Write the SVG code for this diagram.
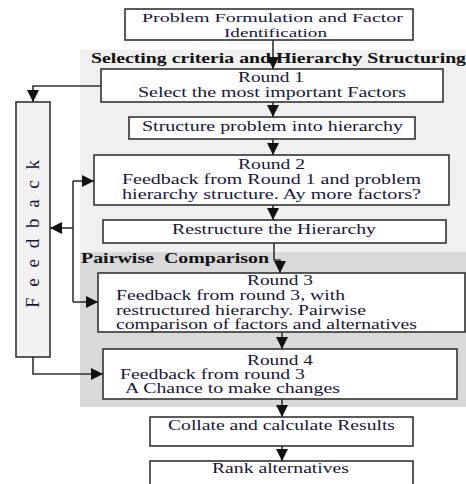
<svg xmlns="http://www.w3.org/2000/svg" width="466" height="484" viewBox="0 0 466 484">
<style>
.box{fill:#fff;stroke:#333;stroke-width:1.6}
.t{font-family:"Liberation Serif","Times New Roman",serif;font-size:14px;fill:#16163a}
.b{font-weight:bold;fill:#111;font-size:15px}
.c{fill:none;stroke:#333;stroke-width:1.6}
</style>
<defs>
<marker id="ah" markerUnits="userSpaceOnUse" markerWidth="12" markerHeight="12" refX="10" refY="5" orient="auto" viewBox="0 0 10 10">
<path d="M0,0 L10,5 L0,10 z" fill="#111"/>
</marker>
</defs>
<rect width="466" height="484" fill="#fff"/>
<rect x="80" y="50" width="386" height="202" fill="#f0f0f0"/>
<rect x="80" y="252" width="386" height="155" fill="#d9d9d9"/>
<text class="t b" x="91" y="63" textLength="375" lengthAdjust="spacingAndGlyphs">Selecting criteria and Hierarchy Structuring</text>
<text class="t b" x="81" y="263" textLength="188" lengthAdjust="spacingAndGlyphs" xml:space="preserve">Pairwise  Comparison</text>

<g id="n-top"><rect class="box" x="125" y="9" width="288" height="31"/>
<text class="t" x="142" y="22" style="font-size:13.5px" textLength="261" lengthAdjust="spacingAndGlyphs">Problem Formulation and Factor</text>
<text class="t" x="224" y="36.5" style="font-size:13.5px" textLength="103" lengthAdjust="spacingAndGlyphs">Identification</text></g>

<g id="n-round1"><rect class="box" x="101" y="69" width="342" height="33"/>
<text class="t" x="238" y="82" textLength="66" lengthAdjust="spacingAndGlyphs">Round 1</text>
<text class="t" x="138" y="97" textLength="268" lengthAdjust="spacingAndGlyphs">Select the most important Factors</text></g>

<g id="n-structure"><rect class="box" x="129" y="117" width="286" height="22"/>
<text class="t" x="142" y="131" textLength="261" lengthAdjust="spacingAndGlyphs">Structure problem into hierarchy</text></g>

<g id="n-round2"><rect class="box" x="94" y="155" width="355" height="50"/>
<text class="t" x="238" y="169" textLength="67" lengthAdjust="spacingAndGlyphs">Round 2</text>
<text class="t" x="122" y="184" textLength="299" lengthAdjust="spacingAndGlyphs">Feedback from Round 1 and problem</text>
<text class="t" x="122" y="199" textLength="299" lengthAdjust="spacingAndGlyphs">hierarchy structure. Ay more factors?</text></g>

<g id="n-restructure"><rect class="box" x="103" y="220" width="343" height="23"/>
<text class="t" x="172" y="234" textLength="204" lengthAdjust="spacingAndGlyphs">Restructure the Hierarchy</text></g>

<g id="n-round3"><rect class="box" x="98" y="273" width="367" height="59"/>
<text class="t" x="247" y="285" textLength="66" lengthAdjust="spacingAndGlyphs">Round 3</text>
<text class="t" x="116" y="300" textLength="229" lengthAdjust="spacingAndGlyphs">Feedback from round 3, with</text>
<text class="t" x="116" y="315" textLength="250" lengthAdjust="spacingAndGlyphs">restructured hierarchy. Pairwise</text>
<text class="t" x="116" y="329" textLength="301" lengthAdjust="spacingAndGlyphs">comparison of factors and alternatives</text></g>

<g id="n-round4"><rect class="box" x="103" y="349" width="354" height="50"/>
<text class="t" x="247" y="365" textLength="66" lengthAdjust="spacingAndGlyphs">Round 4</text>
<text class="t" x="120" y="379" textLength="185" lengthAdjust="spacingAndGlyphs">Feedback from round 3</text>
<text class="t" x="125" y="393" textLength="215" lengthAdjust="spacingAndGlyphs">A Chance to make changes</text></g>

<g id="n-collate"><rect class="box" x="150" y="417" width="263" height="29"/>
<text class="t" x="168" y="430" textLength="227" lengthAdjust="spacingAndGlyphs">Collate and calculate Results</text></g>

<g id="n-rank"><rect class="box" x="150" y="461" width="263" height="32"/>
<text class="t" x="212" y="473" textLength="137" lengthAdjust="spacingAndGlyphs">Rank alternatives</text></g>

<g id="n-feedback"><rect x="16" y="102" width="34" height="255" fill="#f2f2f2" stroke="#333" stroke-width="1.6"/>
<text class="t" transform="translate(39,308) rotate(-90)" style="font-size:19px" textLength="148" lengthAdjust="spacing">F e e d b a c k</text></g>

<g id="connectors">
<path class="c" d="M273,40 V69" marker-end="url(#ah)"/>
<path class="c" d="M273,102 V117" marker-end="url(#ah)"/>
<path class="c" d="M273,139 V155" marker-end="url(#ah)"/>
<path class="c" d="M273,205 V220" marker-end="url(#ah)"/>
<path class="c" d="M274,243 V260 H280 V273" marker-end="url(#ah)"/>
<path class="c" d="M282,332 V349" marker-end="url(#ah)"/>
<path class="c" d="M282,399 V417" marker-end="url(#ah)"/>
<path class="c" d="M282,446 V461" marker-end="url(#ah)"/>
<path class="c" d="M101,86 H33 V102" marker-end="url(#ah)"/>
<path class="c" d="M73,181 V302"/>
<path class="c" d="M73,181 H94" marker-end="url(#ah)"/>
<path class="c" d="M73,228 H50" marker-end="url(#ah)"/>
<path class="c" d="M73,302 H98" marker-end="url(#ah)"/>
<path class="c" d="M33,357 V374 H103" marker-end="url(#ah)"/>
</g>
</svg>
